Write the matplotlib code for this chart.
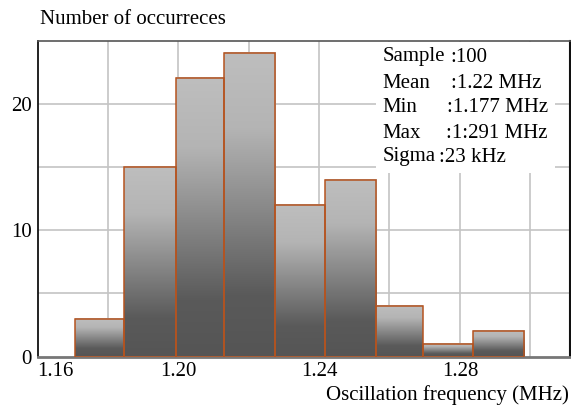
import numpy as np
import matplotlib
matplotlib.use("Agg")
import matplotlib.pyplot as plt
from matplotlib.colors import LinearSegmentedColormap

plt.rcParams["font.family"] = ["Liberation Serif", "DejaVu Serif"]

# histogram
bin_edges = [1.1706, 1.1846, 1.1992, 1.2130, 1.2276, 1.2416, 1.2561, 1.2694, 1.2838, 1.2983]
counts = [3, 15, 22, 24, 12, 14, 4, 1, 2]

x_ticks = [1.16, 1.20, 1.24, 1.28]
x_tick_labels = ["1.16", "1.20", "1.24", "1.28"]
y_ticks = [0, 10, 20]

stat_names = ["Sample", "Mean", "Min", "Max", "Sigma"]
stat_values = [":100", ":1.22 MHz", ":1.177 MHz", ":1:291 MHz", ":23 kHz"]

FS = 15
W, H = 571, 407
fig = plt.figure(figsize=(W / 100, H / 100), dpi=100)
ax = fig.add_axes([37.6 / W, 1 - 356.5 / H, (570 - 37.6) / W, (356.5 - 40.5) / H])

ax.set_xlim(1.16, 1.3113)
ax.set_ylim(0, 25)

# grid every 0.02 / 5 counts
for gx in np.arange(1.18, 1.305, 0.02):
    ax.axvline(gx, color="#c4c4c4", lw=1.2, zorder=0)
for gy in [5, 10, 15, 20]:
    ax.axhline(gy, color="#c4c4c4", lw=1.2, zorder=0)

# gray gradient per bar: light at top, dark at bottom
cmap = LinearSegmentedColormap.from_list(
    "g", [(0.0, "#bebebe"), (0.25, "#b4b4b4"), (0.8, "#5a5a5a"), (1.0, "#555555")])
grad = np.linspace(0, 1, 256).reshape(-1, 1)
for i, c in enumerate(counts):
    x0, x1 = bin_edges[i], bin_edges[i + 1]
    ax.imshow(grad, extent=[x0, x1, 0, c], origin="upper", aspect="auto",
              cmap=cmap, vmin=0, vmax=1, zorder=2, interpolation="bilinear")

widths = np.diff(bin_edges)
ax.bar(bin_edges[:-1], counts, width=widths, align="edge", fill=False,
       edgecolor="#b5531f", linewidth=1.1, zorder=3)

ax.set_xticks(x_ticks)
ax.set_xticklabels(x_tick_labels)
ax.set_yticks(y_ticks)
ax.tick_params(length=0, labelsize=FS, pad=4)
ax.get_xticklabels()[0].set_ha("left")

ax.spines["left"].set_color("#111111")
ax.spines["left"].set_linewidth(1.3)
ax.spines["right"].set_color("#111111")
ax.spines["right"].set_linewidth(1.5)
ax.spines["top"].set_color("#555555")
ax.spines["top"].set_linewidth(1.2)
ax.spines["bottom"].set_color("#777777")
ax.spines["bottom"].set_linewidth(2)

# stats box
fig.patches.append(plt.Rectangle((376 / W, 1 - 173 / H), 179 / W, 131 / H,
                                 transform=fig.transFigure, facecolor="white",
                                 edgecolor="none", zorder=5))
name_y = [57, 83, 108, 133, 157]
value_x = [450, 451, 447, 446, 439]
for n, v, y, vx in zip(stat_names, stat_values, name_y, value_x):
    fig.text(382.5 / W, 1 - y / H, n, fontsize=FS, va="center", ha="left", zorder=6)
    fig.text(vx / W, 1 - y / H, v, fontsize=FS, va="center", ha="left", zorder=6)

fig.text(40 / W, 1 - 20 / H, "Number of occurreces", fontsize=FS, va="center", ha="left")
fig.text(569 / W, 1 - 395 / H, "Oscillation frequency (MHz)", fontsize=FS,
         va="center", ha="right")

fig.savefig("out.png", dpi=100)
